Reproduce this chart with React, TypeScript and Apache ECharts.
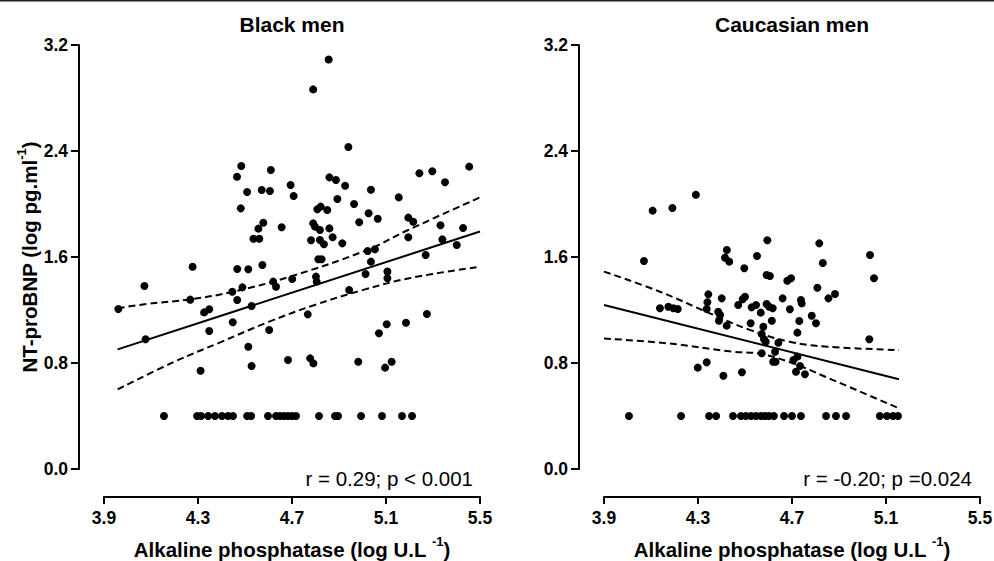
import React, { useEffect, useRef } from "react";
import * as echarts from "echarts";

const FONT = '"Liberation Sans", Arial, Helvetica, sans-serif';

const xTicks = [3.9, 4.3, 4.7, 5.1, 5.5];
const yTicks = [0.0, 0.8, 1.6, 2.4, 3.2];
const panelTitles = ["Black men", "Caucasian men"];
const statTexts = ["r = 0.29; p < 0.001", "r = -0.20; p =0.024"];
const yName = "NT-proBNP (log pg.ml";
const xName = "Alkaline phosphatase (log U.L ";
const supText = "-1";
const detectionLimit = 0.4;

// Black men: measured points
const blackPoints: number[][] = [
  [4.856, 3.09], [4.79, 2.865], [4.94, 2.43], [4.484, 2.287], [4.466, 2.206], [4.61, 2.257],
  [5.454, 2.282], [5.242, 2.232], [5.297, 2.247], [5.351, 2.164], [4.859, 2.201], [4.887, 2.181],
  [4.926, 2.138], [4.694, 2.143], [4.707, 2.06], [4.509, 2.09], [4.571, 2.106], [4.606, 2.098],
  [5.036, 2.108], [5.154, 2.05], [4.482, 1.967], [4.893, 2.038], [4.964, 2.0], [4.808, 1.96],
  [4.822, 1.98], [4.85, 1.955], [5.026, 1.93], [5.065, 1.889], [4.986, 1.862], [5.195, 1.897],
  [5.216, 1.866], [4.578, 1.859], [4.557, 1.814], [4.656, 1.824], [4.79, 1.854], [4.798, 1.829],
  [4.819, 1.804], [4.859, 1.816], [5.332, 1.839], [5.428, 1.819], [4.536, 1.738], [4.561, 1.738],
  [4.781, 1.726], [4.819, 1.728], [4.836, 1.696], [4.873, 1.749], [4.914, 1.703], [5.195, 1.749],
  [5.34, 1.733], [5.401, 1.691], [5.022, 1.645], [5.053, 1.658], [4.812, 1.583], [4.826, 1.583],
  [5.269, 1.615], [5.036, 1.565], [4.277, 1.527], [4.467, 1.509], [4.514, 1.507], [4.574, 1.54],
  [5.106, 1.49], [5.013, 1.472], [5.106, 1.439], [4.072, 1.381], [4.62, 1.414], [4.632, 1.376],
  [4.701, 1.434], [4.802, 1.452], [4.805, 1.414], [4.489, 1.371], [4.446, 1.338], [4.943, 1.351],
  [4.267, 1.278], [4.467, 1.275], [3.961, 1.208], [4.326, 1.182], [4.348, 1.205], [4.528, 1.23],
  [4.077, 0.979], [4.448, 1.107], [4.348, 1.042], [4.603, 1.049], [4.767, 1.167], [5.274, 1.17],
  [5.185, 1.104], [5.103, 1.092], [5.07, 1.024], [4.514, 0.923], [4.311, 0.742], [4.528, 0.777],
  [4.683, 0.823], [4.777, 0.835], [4.791, 0.797], [4.982, 0.81], [5.096, 0.765], [5.124, 0.81],
];
// Black men: x of points sitting at the detection limit
const blackLimitX = [
  4.155, 4.296, 4.313, 4.343, 4.372, 4.402, 4.428, 4.449, 4.509, 4.526, 4.598, 4.632,
  4.649, 4.666, 4.683, 4.7, 4.717, 4.815, 4.883, 4.896, 4.994, 5.083, 5.168, 5.211,
];
const blackFit = [[3.958, 0.903], [5.5, 1.792]];
const blackUpper = [[3.958, 1.213], [4.08, 1.245], [4.27, 1.281], [4.445, 1.336], [4.69, 1.451], [5.02, 1.653], [5.19, 1.8], [5.5, 2.05]];
const blackLower = [[3.958, 0.601], [4.2, 0.81], [4.4, 0.96], [4.6, 1.11], [4.8, 1.24], [5.0, 1.35], [5.2, 1.44], [5.5, 1.527]];

// Caucasian men: measured points
const cauPoints: number[][] = [
  [4.291, 2.07], [4.107, 1.95], [4.191, 1.97], [4.07, 1.57], [4.595, 1.726], [4.816, 1.703],
  [5.032, 1.615], [4.423, 1.653], [4.415, 1.595], [4.433, 1.565], [4.551, 1.608], [4.497, 1.515],
  [4.831, 1.555], [4.592, 1.464], [4.606, 1.457], [4.68, 1.421], [4.696, 1.439], [5.049, 1.44],
  [4.808, 1.368], [4.855, 1.288], [4.883, 1.321], [4.344, 1.318], [4.34, 1.258], [4.337, 1.208],
  [4.401, 1.288], [4.5, 1.3], [4.49, 1.281], [4.471, 1.238], [4.528, 1.22], [4.547, 1.238],
  [4.592, 1.245], [4.603, 1.225], [4.618, 1.213], [4.66, 1.288], [4.691, 1.205], [4.738, 1.275],
  [4.741, 1.25], [4.784, 1.157], [4.802, 1.1], [4.731, 1.117], [4.723, 1.029], [4.138, 1.213],
  [4.174, 1.225], [4.195, 1.213], [4.214, 1.208], [4.386, 1.187], [4.394, 1.162], [4.389, 1.119],
  [4.422, 1.082], [4.524, 1.1], [4.567, 1.18], [4.614, 1.119], [4.578, 1.074], [4.571, 1.019],
  [4.581, 0.979], [4.588, 0.961], [4.642, 0.953], [5.029, 0.979], [4.571, 0.873], [4.628, 0.885],
  [4.62, 0.81], [4.63, 0.81], [4.706, 0.823], [4.723, 0.848], [4.734, 0.777], [4.717, 0.734],
  [4.755, 0.715], [4.299, 0.765], [4.337, 0.805], [4.408, 0.704], [4.487, 0.73],
];
const cauLimitX = [
  4.006, 4.228, 4.347, 4.377, 4.449, 4.483, 4.504, 4.526, 4.547, 4.568, 4.585, 4.602,
  4.623, 4.666, 4.7, 4.738, 4.845, 4.887, 4.93, 5.074, 5.104, 5.13, 5.151,
];
const cauFit = [[3.9, 1.238], [5.155, 0.677]];
const cauUpper = [[3.9, 1.49], [4.138, 1.338], [4.35, 1.175], [4.52, 1.05], [4.69, 0.96], [4.85, 0.923], [5.155, 0.898]];
const cauLower = [[3.9, 0.985], [4.167, 0.949], [4.45, 0.885], [4.564, 0.87], [4.7, 0.8], [4.85, 0.69], [5.155, 0.458]];

const GRID_LEFTS = [104, 604];

export default function App() {
  const ref = useRef<HTMLDivElement>(null);

  useEffect(() => {
    document.body.style.margin = "0";
    if (!ref.current) return;
    const chart = echarts.init(ref.current, undefined, { renderer: "svg" });

    const richName = {
      a: { fontSize: 20.5, fontWeight: "bold", fontFamily: FONT, color: "#000", lineHeight: 28 },
      s: { fontSize: 13, fontWeight: "bold", fontFamily: FONT, color: "#000", lineHeight: 13, verticalAlign: "top" },
    };

    const grids = GRID_LEFTS.map((l) => ({
      left: l,
      top: 45,
      width: 376,
      height: 424,
      containLabel: false,
      outerBoundsMode: "none",
    }));

    const xAxes = GRID_LEFTS.map((_, i) => ({
      type: "value",
      gridIndex: i,
      min: xTicks[0],
      max: xTicks[xTicks.length - 1],
      interval: 0.4,
      offset: 28,
      axisLine: { show: true, onZero: false, lineStyle: { color: "#000", width: 2 } },
      axisTick: { show: true, inside: false, length: 7, lineStyle: { color: "#000", width: 2 } },
      axisLabel: { color: "#000", fontSize: 17.5, fontWeight: "bold", fontFamily: FONT, margin: 12, formatter: (v: number) => v.toFixed(1) },
      splitLine: { show: false },
      name: `{a|${xName}}{s|${supText}}{a|)}`,
      nameLocation: "middle",
      nameGap: 38,
      nameTextStyle: { rich: richName },
    }));

    const yAxes = GRID_LEFTS.map((_, i) => ({
      type: "value",
      gridIndex: i,
      min: yTicks[0],
      max: yTicks[yTicks.length - 1],
      interval: 0.8,
      offset: 25,
      axisLine: { show: true, onZero: false, lineStyle: { color: "#000", width: 2 } },
      axisTick: { show: true, inside: false, length: 8, lineStyle: { color: "#000", width: 2 } },
      axisLabel: { color: "#000", fontSize: 17.5, fontWeight: "bold", fontFamily: FONT, margin: 11, formatter: (v: number) => v.toFixed(1) },
      splitLine: { show: false },
      ...(i === 0
        ? {
            name: `{a|${yName}}{s|${supText}}{a|)}`,
            nameLocation: "middle",
            nameGap: 34,
            nameTextStyle: { rich: richName },
          }
        : {}),
    }));

    const scatter = (data: number[][], i: number) => ({
      type: "scatter",
      xAxisIndex: i,
      yAxisIndex: i,
      symbol: "circle",
      symbolSize: 8,
      itemStyle: { color: "#000", opacity: 1 },
      data,
      z: 3,
    });
    const line = (data: number[][], i: number, dashed: boolean) => ({
      type: "line",
      xAxisIndex: i,
      yAxisIndex: i,
      data,
      showSymbol: false,
      symbol: "none",
      smooth: dashed ? 0.4 : false,
      lineStyle: { color: "#000", width: 2, type: dashed ? [7, 4] : "solid" },
      z: 2,
    });

    const blackAll = blackPoints.concat(blackLimitX.map((x) => [x, detectionLimit]));
    const cauAll = cauPoints.concat(cauLimitX.map((x) => [x, detectionLimit]));

    chart.setOption({
      animation: false,
      backgroundColor: "#fff",
      grid: grids,
      xAxis: xAxes,
      yAxis: yAxes,
      series: [
        scatter(blackAll, 0),
        line(blackFit, 0, false),
        line(blackUpper, 0, true),
        line(blackLower, 0, true),
        scatter(cauAll, 1),
        line(cauFit, 1, false),
        line(cauUpper, 1, true),
        line(cauLower, 1, true),
      ],
      graphic: [
        { type: "rect", shape: { x: 0, y: 0, width: 994, height: 1.5 }, style: { fill: "#222" } },
        ...panelTitles.map((t, i) => ({
          type: "text",
          x: GRID_LEFTS[i] + 188,
          y: 24,
          style: {
            text: t,
            fill: "#000",
            font: `bold 21px ${FONT}`,
            align: "center",
            verticalAlign: "middle",
            textAlign: "center",
            textVerticalAlign: "middle",
          },
        })),
        ...statTexts.map((t, i) => ({
          type: "text",
          x: i === 0 ? 473 : 972,
          y: 478,
          style: {
            text: t,
            fill: "#000",
            font: `20.5px ${FONT}`,
            align: "right",
            verticalAlign: "middle",
            textAlign: "right",
            textVerticalAlign: "middle",
          },
        })),
      ],
    });

    return () => chart.dispose();
  }, []);

  return <div ref={ref} style={{ width: 994, height: 561 }} />;
}
